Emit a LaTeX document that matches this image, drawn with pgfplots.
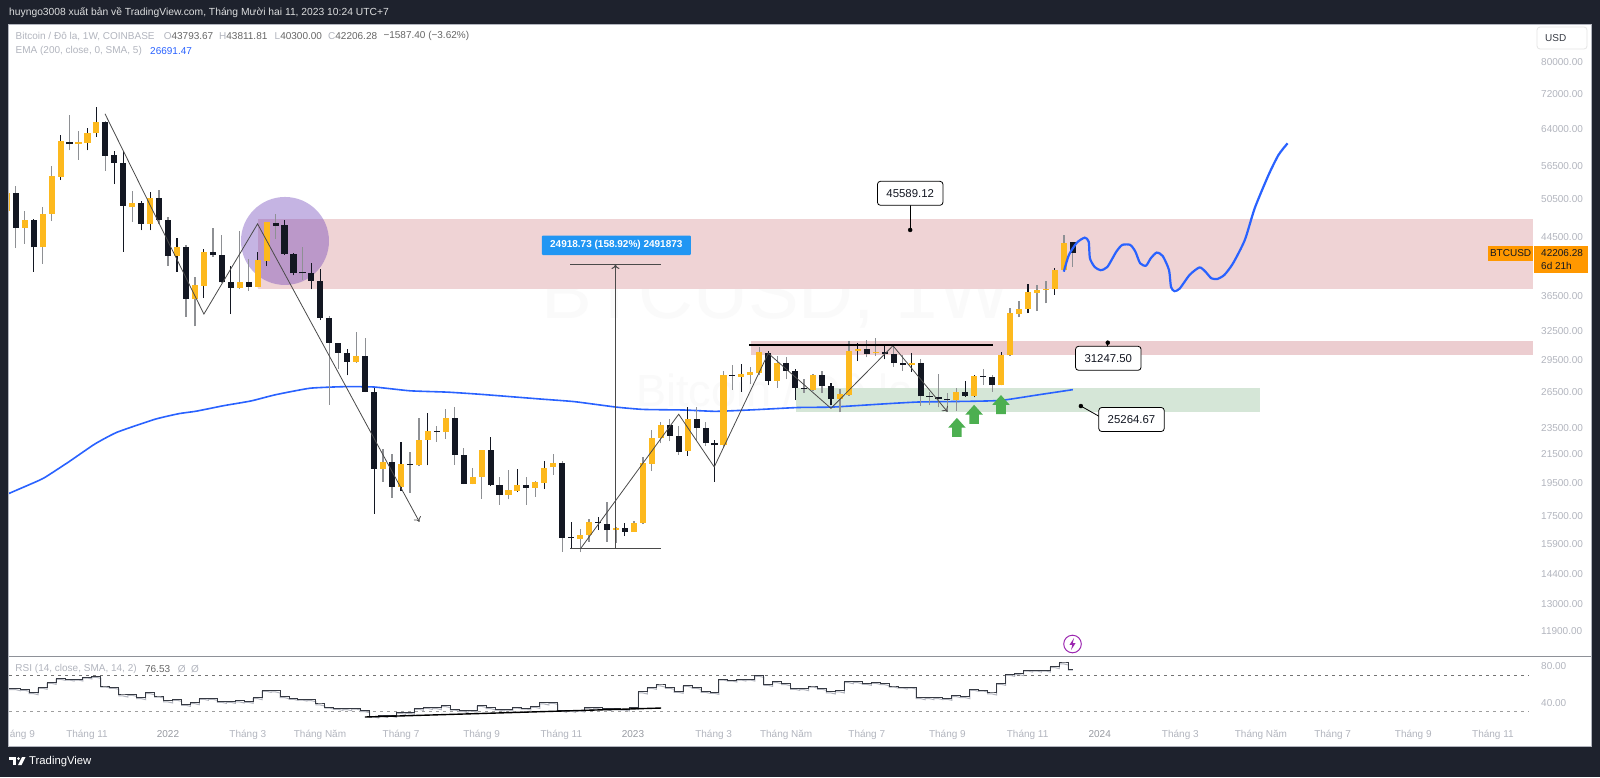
\documentclass[border=0pt]{standalone}
\usepackage{fontspec}
\setmainfont{Liberation Sans}
\usepackage{pgfplots}
\usepackage{pgfplotstable}
\usetikzlibrary{arrows.meta}
\pgfplotsset{compat=1.18}
\definecolor{tvdark}{HTML}{1E222D}
\definecolor{candledown}{HTML}{131722}
\definecolor{candleup}{HTML}{FDB91E}
\definecolor{wickgray}{HTML}{8E9094}
\definecolor{scalegray}{HTML}{B2B5BE}
\definecolor{tvblue}{HTML}{2962FF}
\definecolor{zonepink}{HTML}{EFD3D5}
\definecolor{zonepinkb}{HTML}{ECCDD0}
\definecolor{zonegreen}{HTML}{D5E6D7}
\definecolor{tvorange}{HTML}{FF9800}
\definecolor{tvgreen}{HTML}{4CAF50}
\definecolor{trend}{HTML}{4A4A4A}
\definecolor{measure}{HTML}{2196F3}
\definecolor{circlecol}{HTML}{673AB7}
\definecolor{eventcol}{HTML}{9C27B0}
\newcommand\fs[1]{\fontsize{#1}{#1}\selectfont}
\pgfdeclareplotmark{uparrow}{%
  \pgfpathmoveto{\pgfqpoint{0pt}{0pt}}%
  \pgfpathlineto{\pgfqpoint{8.7pt}{-9.7pt}}%
  \pgfpathlineto{\pgfqpoint{4.8pt}{-9.7pt}}%
  \pgfpathlineto{\pgfqpoint{4.8pt}{-19pt}}%
  \pgfpathlineto{\pgfqpoint{-4.8pt}{-19pt}}%
  \pgfpathlineto{\pgfqpoint{-4.8pt}{-9.7pt}}%
  \pgfpathlineto{\pgfqpoint{-8.7pt}{-9.7pt}}%
  \pgfpathclose\pgfusepathqfill}
% x y: week index, open, high, low, close, w = 1 for a lighter wick
\pgfplotstableread{
x o h l c w
-1 48600 52850 46830 51630 1
0 51550 52850 42890 45910 1
1 45910 48650 43510 47150 1
2 47150 47300 39650 43020 0
3 43020 49310 40700 48140 1
4 48140 56500 46950 54630 1
5 54500 62760 53860 61380 0
6 61300 66990 59520 60820 1
7 60780 63600 57650 61170 1
8 61090 64100 59520 63020 0
9 63020 68860 62270 65480 0
10 65480 65700 55560 58480 1
11 58560 59420 53180 57130 0
12 57130 59420 42370 49410 0
13 49315 51970 46790 49960 1
14 49960 50250 45510 46570 0
15 46570 51800 45510 50710 0
16 50710 52140 46530 47150 1
17 47150 47570 40420 41790 1
18 41790 44390 39650 43020 0
19 43020 43360 34090 36210 1
20 36170 39000 33000 37880 1
21 37830 42720 36290 42360 0
22 42320 45870 41700 41880 1
23 41880 44800 38130 38260 1
24 38300 40340 34390 37570 0
25 37570 45470 37440 38300 1
26 38300 41330 37140 37690 1
27 37660 42400 37620 41230 0
28 41130 46880 40420 46790 0
29 46730 48140 44280 46260 1
30 46370 47150 41950 42040 0
31 42080 42170 39160 39420 0
32 39550 43060 38560 39420 1
33 39420 40780 37360 38430 0
34 38430 39980 33710 33970 0
35 33970 34170 25370 31240 1
36 31180 31240 28570 30200 1
37 30200 30550 28010 29310 0
38 29310 32350 29220 29870 1
39 29870 31710 26450 26510 1
40 26470 26820 17600 20490 0
41 20490 21880 19590 20960 1
42 20940 21490 18580 19290 1
43 19250 22420 19030 20800 0
44 20800 21650 18910 20750 1
45 20700 24280 20650 22550 1
46 22550 24680 20700 23240 0
47 23240 23630 22400 23160 1
48 23160 24990 22650 24280 1
49 24280 25150 20750 21460 1
50 21460 21930 19440 19460 1
51 19460 20530 19440 19950 1
52 19930 21830 18520 21790 1
53 21790 22780 19320 19380 0
54 19380 19890 18140 18750 1
55 18750 20370 18480 19050 1
56 19020 20430 18940 19360 0
57 19360 19890 18140 19200 1
58 19200 19640 18640 19560 1
59 19530 21010 19140 20560 0
60 20590 21490 20070 20870 1
61 20870 21010 15500 16240 1
62 16280 17140 15700 16240 0
63 16180 16750 15470 16400 1
64 16400 17280 16030 17110 1
65 17110 17400 16670 17080 0
66 17020 18330 16030 16670 1
67 16670 16860 15980 16790 1
68 16790 17050 16340 16580 0
69 16580 17170 16570 17080 1
70 17080 21270 17010 20850 1
71 20820 23300 20310 22700 1
72 22680 23970 22300 23700 1
73 23700 24190 22450 22870 1
74 22870 23630 21460 21670 1
75 21700 25210 21370 24190 0
76 24190 25210 22450 23490 1
77 23490 23950 22100 22320 1
78 22350 22550 19590 22150 0
79 22150 28430 22050 28030 1
80 28030 28990 26650 27970 1
81 27880 29090 26510 28130 0
82 28030 28820 27200 28280 1
83 28190 30820 28030 30240 1
84 30200 30370 27080 27480 0
85 27480 29870 26880 29150 1
86 29150 29800 27660 28400 1
87 28400 28590 25780 26830 0
88 26860 27630 26400 26740 1
89 26680 28130 26590 28030 1
90 28030 28430 26400 27010 1
91 27010 27260 25320 25870 0
92 25870 26710 24730 26280 1
93 26210 31430 26120 30370 1
94 30340 31240 29380 30550 0
95 30580 31530 29740 30070 1
96 30140 31770 29870 30240 1
97 30240 31080 29550 30040 0
98 30070 30930 28820 29180 1
99 29180 29970 28430 29020 1
100 28990 30140 28330 29150 0
101 29150 29580 25270 26100 1
102 26120 26510 25320 26040 1
103 26010 28100 25150 25840 1
104 25870 26370 24790 25780 1
105 25780 26820 24860 26470 1
106 26470 27480 26060 26150 0
107 26120 28030 26010 27940 0
108 27940 28570 27140 27880 1
109 27820 28030 26510 27110 1
110 27110 30300 27080 29970 0
111 29940 35110 29910 34510 1
112 34390 35930 34010 34990 1
113 34950 38010 34510 37010 0
114 36950 37930 34720 37330 1
115 37330 38430 35650 37430 1
116 37390 40160 36710 39930 0
117 39890 44890 39850 43690 1
118 43793.67 43811.81 40300 42206.28 1
}\candles
\pgfplotstableread{
x y
-0.8 18840
2.08 19560
3.24 19890
5.93 20960
8.81 22240
11.3 23140
15.54 24170
18.22 24630
20.12 24830
23.24 25300
26.26 25700
28.99 26240
32.84 26820
36.64 26960
39.99 26930
44.0 26590
48.2 26470
52.04 26270
58.51 25870
62.36 25640
66.98 25180
70.05 24980
74.66 24930
78.12 24820
82.35 24950
87.32 25140
91.2 25180
96.96 25450
100.8 25610
106.56 25670
110.03 25750
114.2 26240
118 26691.47
}\ema
\pgfplotstableread{
x y
116.99 39650
117.57 41950
118.45 43690
119.33 44430
119.77 43840
119.91 41460
120.44 40270
121.1 39850
121.85 40270
122.86 42400
123.52 43360
124.41 43360
124.98 42400
125.51 40780
126.17 40450
126.7 41460
127.36 42260
128.03 41790
128.73 39890
128.96 37660
129.35 37140
129.93 37460
131.04 39220
132.14 40210
132.8 39650
133.46 38780
134.12 38690
134.92 39220
135.89 40780
137.2 44090
138.31 49060
139.85 54830
140.96 58630
141.97 60960
}\forecast
\pgfplotstableread{
x y
-1 55.3
0 55.3
1 54.6
2 50.9
3 56.8
4 62.2
5 66.6
6 65.8
7 65.8
8 68.0
9 68.7
10 58.2
11 56.8
12 48.4
13 49.1
14 45.5
15 50.9
16 47.3
17 41.9
18 43.7
19 38.2
20 40.0
21 44.8
22 44.8
23 41.5
24 41.5
25 41.9
26 41.5
27 45.5
28 53.5
29 52.8
30 46.6
31 44.8
32 44.0
33 43.3
34 38.6
35 35.3
36 33.9
37 33.5
38 34.2
39 31.3
40 25.5
41 26.2
42 26.2
43 29.5
44 29.5
45 33.9
46 34.9
47 34.6
48 36.8
49 33.1
50 31.3
51 32.0
52 37.1
53 34.6
54 33.1
55 33.1
56 35.3
57 34.2
58 36.0
59 39.7
60 40.4
61 31.7
62 31.7
63 32.0
64 34.6
65 34.6
66 33.5
67 34.2
68 33.1
69 34.9
70 51.7
71 56.8
72 59.3
73 56.8
74 52.4
75 58.9
76 56.8
77 52.4
78 51.3
79 65.8
80 64.7
81 65.8
82 65.8
83 69.8
84 60.0
85 62.9
86 60.7
87 55.7
88 55.3
89 58.2
90 55.7
91 51.7
92 52.8
93 62.9
94 62.9
95 61.1
96 62.2
97 60.7
98 58.2
99 57.1
100 57.1
101 45.5
102 45.5
103 45.5
104 44.8
105 47.7
106 46.6
107 54.6
108 53.8
109 50.6
110 61.1
111 70.9
112 71.7
113 75.6
114 75.6
115 75.6
116 79.3
117 83.3
118 76.53
}\rsi
\pgfplotsset{
  pixelaxis/.style={at={(0pt,0pt)},anchor=south west,scale only axis,width=1600pt,height=777pt,
    xmin=0,xmax=1600,ymin=0,ymax=777,y dir=reverse,hide axis,clip=false},
  wicks/.style 2 args={draw=none,mark=none,forget plot,error bars/y dir=plus,error bars/y explicit,error bars/error mark=none,
    error bars/error bar style={line width=#1,color=#2}},
}
\tikzset{opentip/.style={-{To[length=4.5pt,width=8pt]}}}
\begin{document}
\begin{tikzpicture}
\useasboundingbox (0,0) rectangle (1600pt,777pt);
% ---- frame
\begin{axis}[pixelaxis]
\addplot[fill=tvdark,draw=none] coordinates {(0,0)(1600,0)(1600,777)(0,777)} --cycle;
\addplot[fill=white,draw=scalegray,line width=.8pt] coordinates {(8.5,24)(1591,24)(1591,746)(8.5,746)} --cycle;
\addplot[draw=scalegray!80!black,line width=1pt] coordinates {(9,656)(1591,656)};
\node[anchor=center,text=black!2,font=\fs{76}] at (axis cs:775.6,297) {BTCUSD, 1W};
\node[anchor=center,text=black!2,font=\fs{45}] at (axis cs:775,390) {Bitcoin / Đô la};
\node[anchor=west,inner sep=0pt,text=white!85!tvdark,font=\fs{10.3}] at (axis cs:9,13) {huyngo3008 xuất bản về TradingView.com, Tháng Mười hai 11, 2023 10:24 UTC+7};
\end{axis}
% ---- price pane
\begin{axis}[at={(9pt,121pt)},anchor=south west,scale only axis,width=1525pt,height=632pt,
  xmin=-0.759,xmax=169.48,ymode=log,ymin=10931,ymax=90950,
  axis line style={draw=none},major tick length=0pt,minor tick length=0pt,
  xtick=\empty,
  ytick={80000,72000,64000,56500,50500,44500,36500,32500,29500,26500,23500,21500,19500,17500,15900,14400,13000,11900},
  yticklabels={80000.00,72000.00,64000.00,56500.00,50500.00,44500.00,36500.00,32500.00,29500.00,26500.00,23500.00,21500.00,19500.00,17500.00,15900.00,14400.00,13000.00,11900.00},
  yticklabel pos=right,
  yticklabel style={anchor=west,inner sep=0pt,xshift=7pt,text=scalegray,font=\fs{10}},
  clip mode=individual]
\addplot[fill=zonepink,draw=none,forget plot] coordinates {(27.04,47260)(169.4,47260)(169.4,37390)(27.04,37390)} --cycle;
\addplot[fill=zonepinkb,draw=none,forget plot] coordinates {(82.04,31430)(169.4,31430)(169.4,29970)(82.04,29970)} --cycle;
\addplot[fill=zonegreen,draw=none,forget plot] coordinates {(87.1,26850)(138.9,26850)(138.9,24800)(87.1,24800)} --cycle;
\fill[color=circlecol,fill opacity=.38] (axis cs:30.05,43940) circle [radius=44pt];
% EMA
\addplot[tvblue,line width=1.6pt,smooth,tension=.3,forget plot] table[x=x,y=y] {\ema};
% candles: wicks
\addplot[wicks={1.1pt}{candledown},restrict expr to domain={\thisrow{w}}{-0.5:0.5}]
  table[x=x,y=l,y error plus expr=\thisrow{h}-\thisrow{l}] {\candles};
\addplot[wicks={1.3pt}{wickgray},restrict expr to domain={\thisrow{w}}{0.5:1.5}]
  table[x=x,y=l,y error plus expr=\thisrow{h}-\thisrow{l}] {\candles};
% candles: bodies
\addplot[wicks={6.1pt}{candleup},restrict expr to domain={\thisrow{c}-\thisrow{o}}{0:1000000}]
  table[x=x,y=o,y error plus expr=\thisrow{c}-\thisrow{o}] {\candles};
\addplot[wicks={6.1pt}{candledown},restrict expr to domain={\thisrow{c}-\thisrow{o}}{-1000000:0}]
  table[x=x,y=c,y error plus expr=\thisrow{o}-\thisrow{c}] {\candles};
% hand-drawn trend lines
\addplot[trend,line width=.8pt,opentip,forget plot] coordinates {(9.96,67290)(21.0,34390)(26.99,46530)(45.05,17140)};
\addplot[trend,line width=.8pt,opentip,forget plot] coordinates {(63.05,15670)(74.0,24580)(77.97,20600)(84.0,30150)(91.0,25070)(97.92,30930)(104.0,24790)};
\addplot[trend,line width=1pt,forget plot] coordinates {(61.9,15670)(72.05,15670)};
\addplot[trend,line width=1pt,forget plot] coordinates {(61.9,40600)(72.05,40600)};
\addplot[trend,line width=1pt,opentip,forget plot] coordinates {(66.94,15670)(66.94,40600)};
\addplot[black,line width=1.4pt,forget plot] coordinates {(81.9,31010)(109.06,31010)};
% forecast path
\addplot[tvblue,line width=2.2pt,smooth,tension=.4,forget plot] table[x=x,y=y] {\forecast};
% arrows
\addplot[only marks,mark=uparrow,color=tvgreen,forget plot] coordinates {(105.06,24280)(106.98,25370)(109.98,26210)};
% callout anchors
\addplot[black,line width=.8pt,forget plot] coordinates {(99.84,45589.12)(99.84,50100)};
\addplot[black,line width=.8pt,forget plot] coordinates {(121.9,31247.5)(121.9,30700)};
\addplot[black,line width=.8pt,forget plot] coordinates {(118.9,25264.67)(120.95,24400)};
\addplot[only marks,mark=*,mark size=2pt,black,forget plot] coordinates {(99.84,45589.12)(121.9,31247.5)(118.9,25264.67)};
\end{axis}
% ---- RSI pane
\begin{axis}[at={(9pt,31pt)},anchor=south west,scale only axis,width=1525pt,height=90pt,
  xmin=-0.759,xmax=169.48,ymin=-7.2,ymax=90.9,
  axis line style={draw=none},major tick length=0pt,
  ytick={40,80},yticklabels={40.00,80.00},yticklabel pos=right,
  yticklabel style={anchor=west,inner sep=0pt,xshift=7pt,text=scalegray,font=\fs{10}},
  xtick={0.73,7.95,16.99,25.9,33.96,43,52,60.9,68.9,77.9,86,95,104,112.95,121,130,139,147,156,164.9},
  xticklabels={áng 9,Tháng 11,\textcolor{scalegray!85!black}{2022},Tháng 3,Tháng Năm,Tháng 7,Tháng 9,Tháng 11,\textcolor{scalegray!85!black}{2023},Tháng 3,Tháng Năm,Tháng 7,Tháng 9,Tháng 11,\textcolor{scalegray!85!black}{2024},Tháng 3,Tháng Năm,Tháng 7,Tháng 9,Tháng 11},
  xticklabel style={anchor=base,inner sep=0pt,yshift=8.5pt,text=scalegray,font=\fs{10}},
  clip mode=individual]
\addplot[black!55,line width=.8pt,dash pattern=on 3pt off 4pt,forget plot] coordinates {(-0.759,70)(168.9,70)};
\addplot[black!38,line width=.8pt,dash pattern=on 3pt off 4pt,forget plot] coordinates {(-0.759,30)(168.9,30)};
\addplot[scalegray,line width=1pt,const plot mark mid,forget plot,yshift=-1pt] table[x=x,y=y] {\rsi};
\addplot[candledown!85,line width=1pt,const plot mark mid,forget plot] table[x=x,y=y] {\rsi};
\addplot[black,line width=1.4pt,forget plot] coordinates {(38.96,24.4)(72.05,34.2)};
\end{axis}
% ---- labels on top
\begin{axis}[pixelaxis]
\tikzset{lab/.style={anchor=west,inner sep=0pt,font=\fs{10}}}
\node[lab,text=scalegray] at (axis cs:15.5,36) {Bitcoin / Đô la, 1W, COINBASE};
\node[lab,text=scalegray] at (axis cs:163.6,36) {O\textcolor{black!60}{43793.67}};
\node[lab,text=scalegray] at (axis cs:219,36) {H\textcolor{black!60}{43811.81}};
\node[lab,text=scalegray] at (axis cs:274.5,36) {L\textcolor{black!60}{40300.00}};
\node[lab,text=scalegray] at (axis cs:328,36) {C\textcolor{black!60}{42206.28}};
\node[lab,text=black!60] at (axis cs:383.3,36) {−1587.40 (−3.62\%)};
\node[lab,text=scalegray] at (axis cs:15.5,51) {EMA (200, close, 0, SMA, 5)};
\node[lab,text=tvblue] at (axis cs:150,51) {26691.47};
\node[lab,text=scalegray] at (axis cs:15.3,669.3) {RSI (14, close, SMA, 14, 2)};
\node[lab,text=black!60] at (axis cs:144.9,669.3) {76.53};
\node[lab,text=scalegray] at (axis cs:177.6,669.3) {Ø};
\node[lab,text=scalegray] at (axis cs:190.8,669.3) {Ø};
% USD button
\node[draw=black!10,rounded corners=3pt,fill=white,minimum width=50pt,minimum height=22pt,inner sep=0pt,line width=.8pt] at (axis cs:1562,38) {};
\node[lab,text=candledown!85] at (axis cs:1545,38.5) {USD};
% blue measure label
\node[fill=measure,minimum width=149pt,minimum height=19.5pt,inner sep=0pt,text=white,font=\fs{10}\bfseries,rounded corners=1pt] at (axis cs:616.3,245.3) {24918.73 (158.92\%) 2491873};
% callouts
\tikzset{call/.style={draw=black,fill=white,rounded corners=3pt,minimum width=65.5pt,minimum height=24pt,inner sep=0pt,font=\fs{11.4},text=candledown,line width=.8pt}}
\node[call] at (axis cs:910.2,193.3) {45589.12};
\node[call] at (axis cs:1108.3,358.3) {31247.50};
\node[call] at (axis cs:1131.5,419.5) {25264.67};
% price tags
\node[fill=tvorange,minimum width=44.3pt,minimum height=14.7pt,inner sep=0pt,font=\fs{10},text=candledown] at (axis cs:1510.6,253.3) {BTCUSD};
\node[fill=tvorange,minimum width=53.7pt,minimum height=26.7pt,inner sep=0pt] at (axis cs:1560.8,259.3) {};
\node[lab,text=candledown] at (axis cs:1541,253) {42206.28};
\node[lab,text=candledown] at (axis cs:1541,266) {6d 21h};
% event icon
\draw[color=eventcol,fill=white,line width=1pt] (axis cs:1072.5,644) circle [radius=8.8pt];
\fill[color=eventcol,shift={(axis cs:1072.5,644)}] (1.5pt,6pt) -- (-3pt,-0.8pt) -- (-.2pt,-.8pt) -- (-1.5pt,-6pt) -- (3pt,.8pt) -- (.2pt,.8pt) -- cycle;
% logo
\fill[white] (axis cs:9,757) rectangle (axis cs:16,760);
\fill[white] (axis cs:13,757) rectangle (axis cs:16,765);
\fill[white] (axis cs:18.5,758.6) circle [radius=1.5pt];
\fill[white] (axis cs:22,757) -- (axis cs:25.6,757) -- (axis cs:21.6,765) -- (axis cs:18,765) -- cycle;
\node[lab,text=white,font=\fs{11.3}] at (axis cs:29,762) {TradingView};
\end{axis}
\end{tikzpicture}
\end{document}
